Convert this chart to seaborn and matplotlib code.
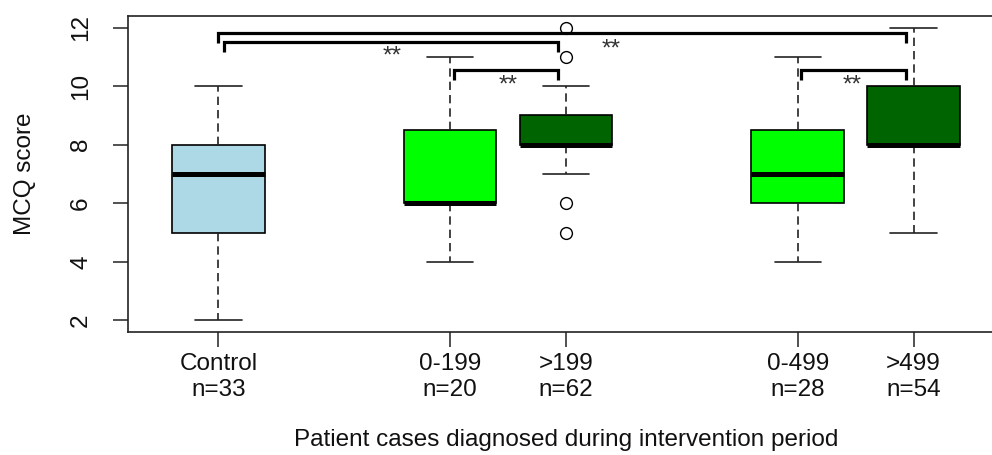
import numpy as np
import pandas as pd
import matplotlib
matplotlib.use("Agg")
import matplotlib.pyplot as plt
import seaborn as sns

# ---------------- data ----------------
groups = ["Control", "0-199", ">199", "0-499", ">499"]
positions = [1, 3, 4, 6, 7]
sizes = [33, 20, 62, 28, 54]
box_colors = ["#ADD8E6", "#00FF00", "#006400", "#00FF00", "#006400"]

score_levels = [2, 3, 4, 5, 6, 7, 8, 9, 10, 11, 12]
counts_control = [1, 1, 3, 5, 4, 6, 7, 4, 2, 0, 0]
counts_0_199 = [0, 0, 2, 2, 7, 2, 2, 0, 3, 2, 0]
counts_gt199 = [0, 0, 0, 1, 1, 6, 30, 18, 4, 1, 1]
counts_0_499 = [0, 0, 2, 3, 5, 6, 5, 0, 4, 3, 0]
counts_gt499 = [0, 0, 0, 2, 4, 6, 18, 8, 12, 3, 1]
group_counts = [counts_control, counts_0_199, counts_gt199, counts_0_499, counts_gt499]

# significance brackets (group index pairs) and labels
bracket_from = [0, 0, 1, 3]
bracket_to = [4, 2, 2, 4]
bracket_level = [11.83, 11.52, 10.56, 10.56]
bracket_left_off = [0.0, 0.05, 0.03, 0.03]
bracket_right_off = [-0.07, -0.07, -0.07, -0.07]
bracket_drop = 0.34
star_text = ["**", "**", "**", "**"]
star_x = [4.39, 2.5, 3.5, 6.47]
star_y = [11.05, 10.80, 9.81, 9.81]

# ---------------- build table ----------------
rows = []
for g, p, cnts in zip(groups, positions, group_counts):
    vals = np.repeat(score_levels, cnts)
    for v in vals:
        rows.append((g, p, v))
df = pd.DataFrame(rows, columns=["group", "pos", "score"])

# ---------------- style ----------------
sns.set_theme(style="white")
plt.rcParams["font.family"] = ["Liberation Sans", "DejaVu Sans"]
plt.rcParams["text.color"] = "#111111"
plt.rcParams["xtick.color"] = "#111111"
plt.rcParams["ytick.color"] = "#111111"
plt.rcParams["axes.labelcolor"] = "#111111"
FS = 17.5

fig = plt.figure(figsize=(9.92, 4.55), dpi=100)
ax = fig.add_axes([128 / 992, 1 - 332 / 455, (1004 - 128) / 992, (332 - 16) / 455])

sns.boxplot(
    data=df, x="pos", y="score", hue="group", hue_order=groups,
    palette=dict(zip(groups, box_colors)), native_scale=True, dodge=False,
    width=0.8, saturation=1, linecolor="black", linewidth=1.2, whis=1.5,
    fliersize=8.5,
    flierprops=dict(marker="o", markerfacecolor="none", markeredgecolor="black",
                    markeredgewidth=1.0),
    whiskerprops=dict(linestyle=(0, (5, 3)), color="#222222", linewidth=1.2),
    capprops=dict(color="#222222", linewidth=1.2),
    medianprops=dict(linewidth=3.6, color="black", solid_capstyle="butt"),
    legend=False, ax=ax,
)

# brackets
for i in range(len(bracket_from)):
    xl = positions[bracket_from[i]] + bracket_left_off[i]
    xr = positions[bracket_to[i]] + bracket_right_off[i]
    h = bracket_level[i]
    ax.plot([xl, xl, xr, xr], [h - bracket_drop, h, h, h - bracket_drop],
            color="black", lw=2.3, solid_joinstyle="miter", solid_capstyle="butt",
            zorder=5)
for t, x, y in zip(star_text, star_x, star_y):
    ax.text(x, y, t, ha="center", va="baseline", fontsize=FS, color="#333333", zorder=6)

# axes
ax.set_xlim(0.22, 7.78)
ax.set_ylim(1.6, 12.4)
ax.set_yticks([2, 4, 6, 8, 10, 12])
ax.set_xticks(positions)
ax.set_xticklabels([f"{g}\nn={n}" for g, n in zip(groups, sizes)], fontsize=FS,
                   linespacing=1.25)
for lab in ax.get_yticklabels():
    lab.set_fontsize(FS)
ax.tick_params(axis="y", labelrotation=90, length=10.8, width=1.1, pad=15,
               left=True, color="#222222")
ax.tick_params(axis="x", length=10.8, width=1.1, pad=4, bottom=True, color="#222222")
for lab in ax.get_yticklabels():
    lab.set_va("center")
    lab.set_ha("right")

for s in ax.spines.values():
    s.set_visible(True)
    s.set_color("#222222")
    s.set_linewidth(1.2)

ax.set_xlabel("Patient cases diagnosed during intervention period", fontsize=FS)
ax.xaxis.label.set_va("center")
ax.xaxis.set_label_coords(0.5, (332 - 440) / 316)
ax.set_ylabel("MCQ score", fontsize=FS)
ax.yaxis.label.set_va("center")
ax.yaxis.set_label_coords((25 - 128) / 876, 0.5)

fig.savefig("out.png", dpi=100)
